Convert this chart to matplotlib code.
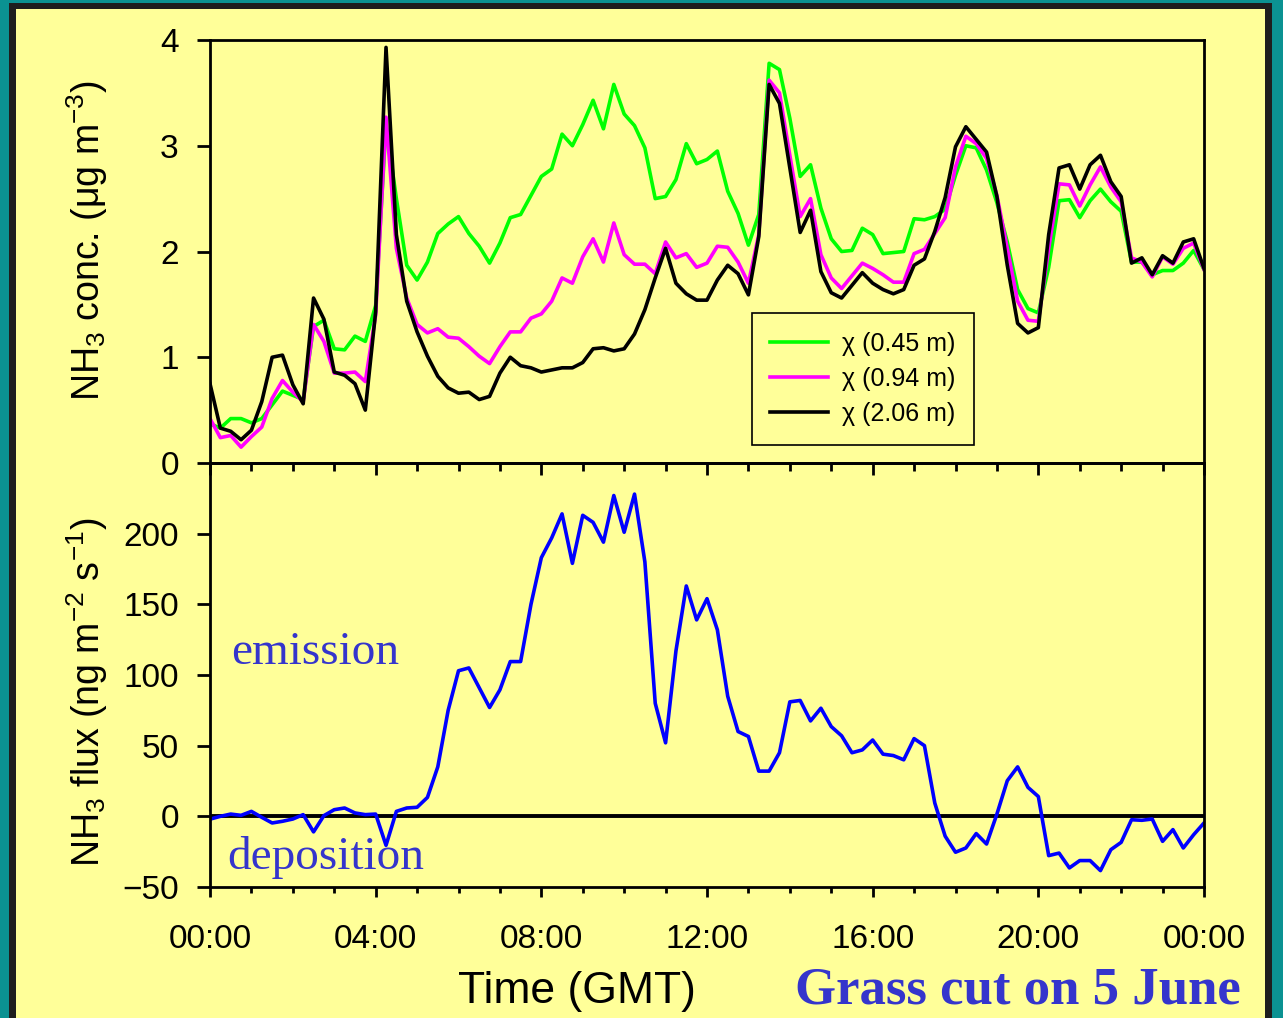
import matplotlib.pyplot as plt
from matplotlib.patches import Rectangle
from matplotlib.ticker import MultipleLocator, FixedLocator
import numpy as np

plt.rcParams['font.family'] = ['Liberation Sans', 'DejaVu Sans']
plt.rcParams['mathtext.fontset'] = 'custom'
plt.rcParams['mathtext.rm'] = 'Liberation Sans'
plt.rcParams['mathtext.it'] = 'Liberation Sans:italic'

# 15-minute samples over the day (hours GMT)
time_h = np.arange(97) * 0.25

# NH3 concentration (ug m-3) at three heights
chi_045 = [0.37, 0.33, 0.42, 0.42, 0.38, 0.42, 0.55, 0.68, 0.64, 0.60,
           1.29, 1.35, 1.08, 1.07, 1.20, 1.15, 1.49, 3.20, 2.50, 1.87,
           1.73, 1.90, 2.17, 2.26, 2.33, 2.17, 2.05, 1.89, 2.08, 2.32,
           2.35, 2.53, 2.71, 2.78, 3.11, 3.00, 3.20, 3.43, 3.16, 3.58,
           3.30, 3.19, 2.98, 2.50, 2.52, 2.68, 3.02, 2.83, 2.87, 2.95,
           2.57, 2.36, 2.06, 2.35, 3.78, 3.72, 3.26, 2.71, 2.82, 2.41,
           2.12, 2.00, 2.01, 2.22, 2.16, 1.98, 1.99, 2.00, 2.31, 2.30,
           2.33, 2.40, 2.72, 3.00, 2.98, 2.77, 2.46, 2.09, 1.64, 1.46,
           1.42, 1.85, 2.48, 2.49, 2.32, 2.48, 2.59, 2.47, 2.38, 1.90,
           1.90, 1.78, 1.82, 1.82, 1.89, 2.01, 1.83]
chi_094 = [0.42, 0.24, 0.26, 0.15, 0.25, 0.34, 0.61, 0.78, 0.67, 0.58,
           1.31, 1.15, 0.85, 0.85, 0.86, 0.77, 1.40, 3.27, 2.03, 1.56,
           1.31, 1.23, 1.27, 1.19, 1.18, 1.10, 1.01, 0.94, 1.10, 1.24,
           1.24, 1.37, 1.41, 1.53, 1.75, 1.70, 1.95, 2.12, 1.90, 2.27,
           1.97, 1.88, 1.88, 1.79, 2.09, 1.94, 1.98, 1.85, 1.89, 2.05,
           2.04, 1.90, 1.70, 2.16, 3.62, 3.50, 2.91, 2.33, 2.50, 1.97,
           1.75, 1.65, 1.77, 1.89, 1.84, 1.78, 1.71, 1.71, 1.98, 2.02,
           2.17, 2.32, 2.80, 3.09, 3.02, 2.88, 2.53, 2.03, 1.53, 1.35,
           1.34, 2.03, 2.64, 2.63, 2.43, 2.63, 2.80, 2.61, 2.47, 1.94,
           1.90, 1.76, 1.95, 1.88, 2.03, 2.08, 1.83]
chi_206 = [0.75, 0.33, 0.30, 0.22, 0.31, 0.58, 1.00, 1.02, 0.74, 0.56,
           1.56, 1.36, 0.86, 0.83, 0.75, 0.50, 1.43, 3.93, 2.16, 1.53,
           1.24, 1.01, 0.82, 0.71, 0.66, 0.67, 0.60, 0.63, 0.85, 1.00,
           0.92, 0.90, 0.86, 0.88, 0.90, 0.90, 0.95, 1.08, 1.09, 1.06,
           1.08, 1.22, 1.45, 1.75, 2.03, 1.70, 1.60, 1.54, 1.54, 1.73,
           1.87, 1.79, 1.59, 2.14, 3.58, 3.40, 2.79, 2.18, 2.39, 1.81,
           1.61, 1.56, 1.68, 1.80, 1.70, 1.64, 1.60, 1.64, 1.87, 1.93,
           2.19, 2.51, 2.99, 3.18, 3.06, 2.94, 2.52, 1.87, 1.32, 1.23,
           1.28, 2.16, 2.79, 2.82, 2.59, 2.82, 2.91, 2.66, 2.52, 1.89,
           1.94, 1.78, 1.96, 1.89, 2.09, 2.12, 1.84]

# NH3 flux (ng m-2 s-1)
flux = [-2, 0, 1.6, 0.7, 3.5, -0.7, -4.7, -3.5, -1.9, 1.2,
        -11, 0.5, 4.7, 5.9, 2.4, 1.2, 1.6, -20.5, 3.5, 5.9,
        6.4, 13.4, 35, 75, 103, 105, 91, 77, 89.5, 109.5,
        109.5, 150, 183, 197, 214, 179, 213, 208, 194, 227,
        201, 228, 180, 80, 52, 117, 163, 139, 154, 132,
        85, 60, 56.5, 32, 32, 45, 81, 82, 67.5, 76.5,
        63.5, 57, 45, 47, 54, 44, 43, 40, 55, 50,
        9.4, -14, -25.4, -22.4, -12.2, -19.6, 1.6, 25.2, 35, 20.5,
        14, -27.8, -26, -36.5, -31.3, -31.3, -38.4, -23.6, -18.4, -2.4,
        -2.8, -1.9, -17.7, -9.4, -22.4, -13, -4.7]

tick_hours = [0, 4, 8, 12, 16, 20, 24]
tick_labels = ['00:00', '04:00', '08:00', '12:00', '16:00', '20:00', '00:00']
conc_ticks = [0, 1, 2, 3, 4]
flux_ticks = [-50, 0, 50, 100, 150, 200]

W, H = 1283, 1018
yellow = '#FFFF99'
fig = plt.figure(figsize=(W / 100, H / 100), dpi=100, facecolor='#0B9292')
fig.add_artist(Rectangle((9 / W, 0), (1272 - 9) / W, (H - 3) / H,
                         transform=fig.transFigure, facecolor='#1E1E1E',
                         edgecolor='none', zorder=-3))
fig.add_artist(Rectangle((16 / W, 0), (1265 - 16) / W, (H - 9) / H,
                         transform=fig.transFigure, facecolor=yellow,
                         edgecolor='none', zorder=-2))

ax1 = fig.add_axes([210 / W, 1 - 463 / H, 994 / W, 423 / H])
ax2 = fig.add_axes([210 / W, 1 - 887 / H, 994 / W, 424 / H])

lw = 2.6
ax1.plot(time_h, chi_045, color='#00FF00', lw=lw, label='χ (0.45 m)')
ax1.plot(time_h, chi_094, color='#FF00FF', lw=lw, label='χ (0.94 m)')
ax1.plot(time_h, chi_206, color='black', lw=lw, label='χ (2.06 m)')

ax2.axhline(0, color='black', lw=2.8, zorder=1)
ax2.plot(time_h, flux, color='#0000FF', lw=lw, zorder=2)

for ax in (ax1, ax2):
    ax.set_facecolor('none')
    ax.set_xlim(0, 24)
    ax.xaxis.set_major_locator(FixedLocator(tick_hours))
    ax.xaxis.set_minor_locator(MultipleLocator(1))
    for s in ax.spines.values():
        s.set_linewidth(2)
    ax.tick_params(axis='y', direction='out', length=9.5, width=2,
                   labelsize=24, pad=13)

ax1.set_ylim(0, 4)
ax1.set_yticks(conc_ticks)
ax1.tick_params(axis='x', which='major', direction='out', length=8.5,
                width=2, labelbottom=False)
ax1.tick_params(axis='x', which='minor', direction='out', length=5.8,
                width=2)

ax2.set_ylim(-50, 250)
ax2.set_yticks(flux_ticks)
ax2.set_xticks(tick_hours)
ax2.set_xticklabels(tick_labels)
ax2.tick_params(axis='x', which='major', direction='out', length=7,
                width=2, labelsize=24, pad=20)
ax2.tick_params(axis='x', which='minor', direction='out', length=4,
                width=2)

ax1.set_ylabel('NH$_3$ conc. (μg m$^{-3}$)', fontsize=27)
ax1.yaxis.set_label_coords(-0.101, 0.527)
ax2.set_ylabel('NH$_3$ flux (ng m$^{-2}$ s$^{-1}$)', fontsize=27)
ax2.yaxis.set_label_coords(-0.101, 0.46)

leg = ax1.legend(loc='lower left', bbox_to_anchor=(0.545, 0.043),
                 borderaxespad=0, fontsize=18, frameon=True, fancybox=False,
                 edgecolor='black', facecolor=yellow, framealpha=1,
                 handlelength=2.3, handletextpad=0.55, labelspacing=0.45,
                 borderpad=0.75)
leg.get_frame().set_linewidth(1.2)

txt_blue = '#3535CC'
ax2.text((231 - 210) / 994, (887 - 664) / 424, 'emission',
         transform=ax2.transAxes, family='Liberation Serif', fontsize=34,
         color=txt_blue, ha='left', va='baseline')
ax2.text((227 - 210) / 994, (887 - 869) / 424, 'deposition',
         transform=ax2.transAxes, family='Liberation Serif', fontsize=34,
         color=txt_blue, ha='left', va='baseline')

fig.text(458 / W, 1 - 1003 / H, 'Time (GMT)', fontsize=32,
         ha='left', va='baseline')
fig.text(795 / W, 1 - 1004 / H, 'Grass cut on 5 June', fontsize=38,
         family='Liberation Serif', weight='bold', color=txt_blue,
         ha='left', va='baseline')

fig.savefig('out.png', dpi=100, facecolor=fig.get_facecolor())
